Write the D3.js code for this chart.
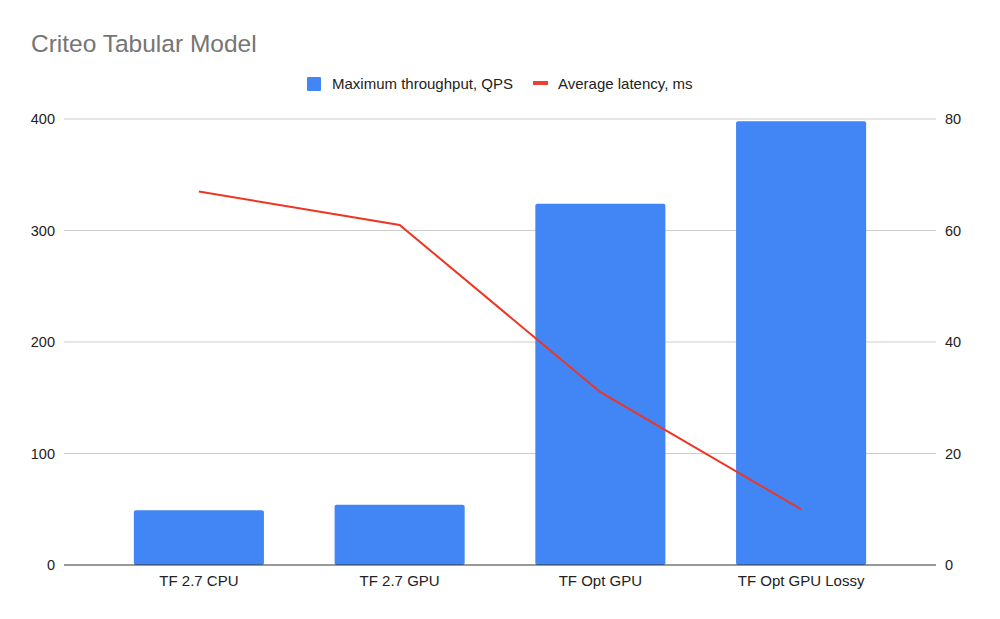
<!DOCTYPE html>
<html>
<head>
<meta charset="utf-8">
<script src="https://cdn.jsdelivr.net/npm/d3@7"></script>
<style>
  body { margin: 0; background: #fff; }
  text { font-family: Arial, "Liberation Sans", sans-serif; }
</style>
</head>
<body>
<svg id="chart" width="1000" height="619"></svg>
<script>
const categories = ['TF 2.7 CPU', 'TF 2.7 GPU', 'TF Opt GPU', 'TF Opt GPU Lossy'];
const throughput = [49, 54, 324, 398];
const latency = [67, 61, 31, 10];
const leftTicks = [0, 100, 200, 300, 400];
const rightTicks = [0, 20, 40, 60, 80];

const width = 1000;
const height = 619;
const margin = { top: 119, right: 64, bottom: 54, left: 64 };

const svg = d3.select('#chart');

const x = d3.scaleBand()
  .domain(categories)
  .range([margin.left, width - margin.right])
  .paddingInner(0.352)
  .paddingOuter(0.348);

const yLeft = d3.scaleLinear().domain([0, 400]).range([height - margin.bottom, margin.top]);
const yRight = d3.scaleLinear().domain([0, 80]).range([height - margin.bottom, margin.top]);

// title
svg.append('text')
  .attr('x', 31)
  .attr('y', 52)
  .attr('font-size', 24.5)
  .attr('fill', '#757575')
  .text('Criteo Tabular Model');

// gridlines
svg.append('g')
  .selectAll('line')
  .data(leftTicks.slice(1))
  .enter().append('line')
  .attr('x1', margin.left)
  .attr('x2', width - margin.right)
  .attr('y1', (d) => yLeft(d))
  .attr('y2', (d) => yLeft(d))
  .attr('stroke', '#cccccc')
  .attr('stroke-width', 1);

// left axis labels
const leftAxis = d3.axisLeft(yLeft).tickValues(leftTicks).tickSize(0).tickPadding(9);
svg.append('g')
  .attr('transform', `translate(${margin.left},0)`)
  .call(leftAxis)
  .call((g) => g.select('.domain').remove())
  .selectAll('text')
  .attr('font-size', 14.5)
  .attr('fill', '#222');

// right axis labels
const rightAxis = d3.axisRight(yRight).tickValues(rightTicks).tickSize(0).tickPadding(9);
svg.append('g')
  .attr('transform', `translate(${width - margin.right},0)`)
  .call(rightAxis)
  .call((g) => g.select('.domain').remove())
  .selectAll('text')
  .attr('font-size', 14.5)
  .attr('fill', '#222');

// bars
svg.append('g')
  .selectAll('rect')
  .data(throughput)
  .enter().append('rect')
  .attr('x', (d, i) => x(categories[i]))
  .attr('y', (d) => yLeft(d))
  .attr('width', x.bandwidth())
  .attr('height', (d) => yLeft(0) - yLeft(d))
  .attr('rx', 2)
  .attr('fill', '#4285f4');

// baseline
svg.append('line')
  .attr('x1', margin.left)
  .attr('x2', width - margin.right)
  .attr('y1', yLeft(0))
  .attr('y2', yLeft(0))
  .attr('stroke', '#333')
  .attr('stroke-width', 1);

// bottom axis labels
const bottomAxis = d3.axisBottom(x).tickSize(0).tickPadding(10);
svg.append('g')
  .attr('transform', `translate(0,${yLeft(0)})`)
  .call(bottomAxis)
  .call((g) => g.select('.domain').remove())
  .selectAll('text')
  .attr('font-size', 15)
  .attr('fill', '#222');

// latency line
const line = d3.line()
  .x((d, i) => x(categories[i]) + x.bandwidth() / 2)
  .y((d) => yRight(d));

svg.append('path')
  .datum(latency)
  .attr('d', line)
  .attr('fill', 'none')
  .attr('stroke', '#ee3524')
  .attr('stroke-width', 2);

// legend
const legend = svg.append('g');
legend.append('rect')
  .attr('x', 307).attr('y', 77)
  .attr('width', 14).attr('height', 14)
  .attr('rx', 1)
  .attr('fill', '#4285f4');
legend.append('text')
  .attr('x', 332).attr('y', 89)
  .attr('font-size', 15)
  .attr('fill', '#222')
  .text('Maximum throughput, QPS');
legend.append('rect')
  .attr('x', 533).attr('y', 81)
  .attr('width', 15).attr('height', 4)
  .attr('fill', '#ea4335');
legend.append('text')
  .attr('x', 558).attr('y', 89)
  .attr('font-size', 15)
  .attr('fill', '#222')
  .text('Average latency, ms');
</script>
</body>
</html>
